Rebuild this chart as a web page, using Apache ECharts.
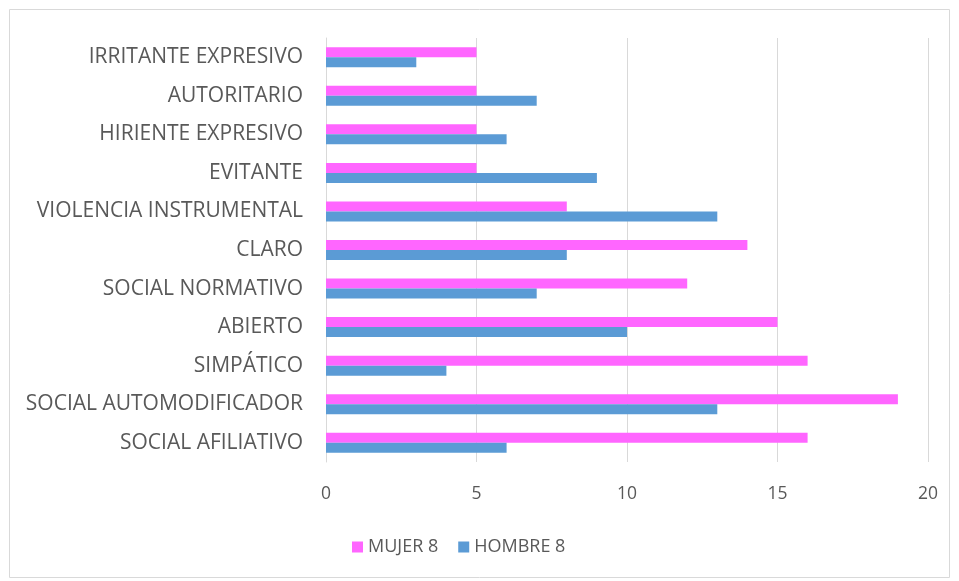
<!DOCTYPE html>
<html><head><meta charset="utf-8">
<script src="https://cdn.jsdelivr.net/npm/echarts@6/dist/echarts.min.js"></script>
<style>html,body{margin:0;padding:0;background:#fff}#c{width:959px;height:581px}</style>
</head><body><div id="c"></div>
<script>
const categories = ['SOCIAL AFILIATIVO','SOCIAL AUTOMODIFICADOR','SIMPÁTICO','ABIERTO','SOCIAL NORMATIVO','CLARO','VIOLENCIA INSTRUMENTAL','EVITANTE','HIRIENTE EXPRESIVO','AUTORITARIO','IRRITANTE EXPRESIVO'];
const mujer = [16,19,16,15,12,14,8,5,5,5,5];
const hombre = [6,13,4,10,7,8,13,9,6,7,3];
const xTicks = [0,5,10,15,20];

const chart = echarts.init(document.getElementById('c'));
const font = "'Open Sans', sans-serif";
chart.setOption({
  animation:false,
  graphic:[{type:'rect',shape:{x:9.5,y:9.5,width:940,height:568},style:{fill:'none',stroke:'#D9D9D9',lineWidth:1}}],
  grid:{left:326,right:31,top:38,bottom:119},
  legend:{data:['MUJER 8','HOMBRE 8'],bottom:20,left:347,itemWidth:11,itemHeight:11,itemGap:20,icon:'rect',
    textStyle:{fontFamily:font,fontSize:18,color:'#595959'}},
  xAxis:{type:'value',min:xTicks[0],max:xTicks[xTicks.length-1],interval:5,
    axisLine:{show:false},axisTick:{show:false},
    axisLabel:{fontFamily:font,fontSize:17.5,color:'#595959',margin:23},
    splitLine:{lineStyle:{color:'#D9D9D9',width:1}}},
  yAxis:{type:'category',data:categories,
    axisLine:{lineStyle:{color:'#D9D9D9'}},axisTick:{show:false},
    axisLabel:{fontFamily:font,fontSize:21,color:'#595959',margin:23}},
  series:[
    {name:'MUJER 8',type:'bar',data:mujer,barWidth:10,barGap:'0%',itemStyle:{color:'#FF66FF'}},
    {name:'HOMBRE 8',type:'bar',data:hombre,barWidth:10,barGap:'0%',itemStyle:{color:'#5B9BD5'}}
  ]
});
</script></body></html>
